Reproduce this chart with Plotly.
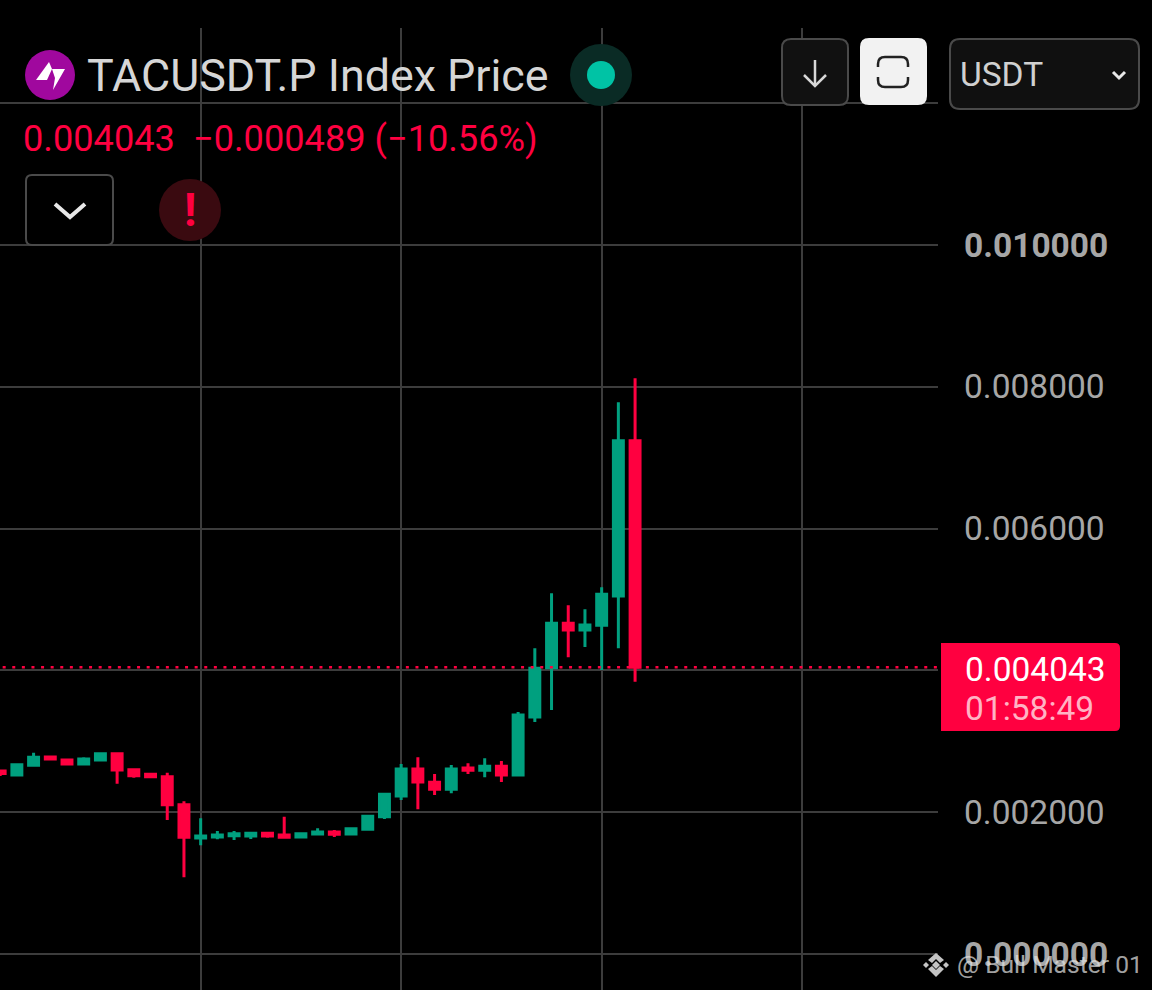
import plotly.graph_objects as go

W = 1152
H = 990

# candle values, in price units
opens = [0.002581, 0.002525, 0.002662, 0.002779, 0.002736, 0.002680, 0.002736, 0.002825, 0.002599, 0.002535,
         0.002501, 0.002106, 0.001636, 0.001650, 0.001669, 0.001664, 0.001702, 0.001678, 0.001650, 0.001693,
         0.001721, 0.001693, 0.001759, 0.001937, 0.002228, 0.002609, 0.002422, 0.002323, 0.002623, 0.002591,
         0.002647, 0.002525, 0.003343, 0.004038, 0.004664, 0.004570, 0.004636, 0.005049, 0.007240]
highs = [0.002588, 0.002675, 0.002839, 0.002793, 0.002750, 0.002774, 0.002830, 0.002839, 0.002619, 0.002549,
         0.002557, 0.002154, 0.001914, 0.001735, 0.001735, 0.001721, 0.001707, 0.001937, 0.001707, 0.001773,
         0.001749, 0.001787, 0.001961, 0.002267, 0.002680, 0.002774, 0.002539, 0.002666, 0.002690, 0.002760,
         0.002722, 0.003413, 0.004312, 0.005087, 0.004918, 0.004862, 0.005172, 0.007781, 0.008120]
lows = [0.002511, 0.002520, 0.002655, 0.002745, 0.002675, 0.002675, 0.002730, 0.002402, 0.002487, 0.002496,
        0.001890, 0.001082, 0.001533, 0.001618, 0.001608, 0.001622, 0.001640, 0.001632, 0.001640, 0.001688,
        0.001650, 0.001674, 0.001755, 0.001904, 0.002172, 0.002041, 0.002243, 0.002267, 0.002539, 0.002492,
        0.002426, 0.002511, 0.003272, 0.003441, 0.004185, 0.004330, 0.004006, 0.004312, 0.003841]
closes = [0.002546, 0.002670, 0.002774, 0.002750, 0.002680, 0.002750, 0.002825, 0.002595, 0.002515, 0.002501,
          0.002106, 0.001646, 0.001664, 0.001678, 0.001697, 0.001702, 0.001664, 0.001646, 0.001697, 0.001721,
          0.001688, 0.001767, 0.001942, 0.002252, 0.002609, 0.002426, 0.002323, 0.002609, 0.002591, 0.002647,
          0.002525, 0.003371, 0.004030, 0.004664, 0.004570, 0.004640, 0.005073, 0.007240, 0.004043]
candle_index = list(range(len(opens)))

price_ticks = [0.0, 0.002, 0.004, 0.006, 0.008, 0.010, 0.012]
price_labels = ["<b>0.000000</b>", "0.002000", "", "0.006000", "0.008000", "<b>0.010000</b>", ""]
time_ticks = [0, 12, 24, 36, 48]

GREEN = "#00a07f"
RED = "#ff0040"
GRID = "#3c3c3c"
TICK_TEXT = "#a6a6a6"
FONT = "Roboto"


def px(x):
    return x / W


def py(y):
    return 1 - y / H


def round_rect(x0, y0, x1, y1, r):
    # rounded box path in paper coords, r in pixels
    pts = [
        f"M {px(x0 + r)} {py(y0)}", f"L {px(x1 - r)} {py(y0)}", f"Q {px(x1)} {py(y0)} {px(x1)} {py(y0 + r)}",
        f"L {px(x1)} {py(y1 - r)}", f"Q {px(x1)} {py(y1)} {px(x1 - r)} {py(y1)}",
        f"L {px(x0 + r)} {py(y1)}", f"Q {px(x0)} {py(y1)} {px(x0)} {py(y1 - r)}",
        f"L {px(x0)} {py(y0 + r)}", f"Q {px(x0)} {py(y0)} {px(x0 + r)} {py(y0)}", "Z",
    ]
    return " ".join(pts)


def poly(points, close=True):
    s = "M " + " L ".join(f"{px(x)} {py(y)}" for x, y in points)
    return s + (" Z" if close else "")


def add_path(fig, path, fill="rgba(0,0,0,0)", line=None, width=0):
    fig.add_shape(type="path", path=path, xref="paper", yref="paper", fillcolor=fill,
                  line=dict(color=line or "rgba(0,0,0,0)", width=width), layer="above")


def add_circle(fig, cx, cy, r, fill):
    fig.add_shape(type="circle", xref="paper", yref="paper", x0=px(cx - r), x1=px(cx + r),
                  y0=py(cy + r), y1=py(cy - r), fillcolor=fill, line=dict(width=0), layer="above")


def add_text(fig, x, y, text, size, color, anchor="left"):
    fig.add_annotation(x=px(x), y=py(y), xref="paper", yref="paper", text=text, showarrow=False,
                       xanchor=anchor, yanchor="middle", font=dict(family=FONT, size=size, color=color),
                       borderpad=0, borderwidth=0)


fig = go.Figure()

fig.add_trace(go.Candlestick(
    x=candle_index, open=opens, high=highs, low=lows, close=closes,
    increasing=dict(line=dict(color=GREEN, width=3), fillcolor=GREEN),
    decreasing=dict(line=dict(color=RED, width=3), fillcolor=RED),
    whiskerwidth=0, showlegend=False,
))

# last price dotted line
fig.add_trace(go.Scatter(
    x=[-1, 57], y=[closes[-1], closes[-1]], mode="lines", showlegend=False,
    line=dict(color=RED, width=2.5, dash="3px 6.6px"),
))

fig.update_layout(
    width=W, height=H, margin=dict(l=0, r=0, t=0, b=0), paper_bgcolor="#000000", plot_bgcolor="#000000",
    font=dict(family=FONT), showlegend=False, boxgap=0.15,
    xaxis=dict(
        domain=[0, 938 / W], range=[-0.01, 56.13], rangeslider=dict(visible=False), tickvals=time_ticks,
        showticklabels=False, ticks="", showgrid=True, gridcolor=GRID, gridwidth=2, zeroline=False, showline=False,
    ),
    yaxis=dict(
        domain=[0, 1 - 28 / H], range=[-0.000508, 0.01306], side="right", tickvals=price_ticks, ticktext=price_labels,
        tickfont=dict(family=FONT, size=33.5, color=TICK_TEXT), ticks="", ticklabelstandoff=25,
        showgrid=True, gridcolor=GRID, gridwidth=2, zeroline=False, showline=False,
    ),
)

# header: logo and title
add_circle(fig, 50, 75, 25, "#a0089e")
add_path(fig, poly([(49, 62), (36, 80), (47, 80), (52, 69)]), fill="#ffffff")
add_path(fig, poly([(52, 69), (65, 69), (53, 90), (55, 78)]), fill="#ffffff")
add_text(fig, 87, 75, "TACUSDT.P Index Price", 44.8, "#d6d6d6")
add_circle(fig, 601, 75, 31, "#0a2b25")
add_circle(fig, 601, 75, 14, "#00c3a5")
add_text(fig, 22.5, 138, "0.004043", 36.2, RED)
add_text(fig, 193, 138, "−0.000489 (−10.56%)", 36.2, RED)

# collapse button and warning
add_path(fig, round_rect(26, 175, 113, 245, 6), fill="#000000", line="#4a4a4a", width=2)
add_path(fig, poly([(55, 204), (70, 217), (85, 204)], close=False), line="#e8e8e8", width=4)
add_circle(fig, 190, 210, 31, "#3a0a10")
add_text(fig, 189.5, 210, "<b>!</b>", 46, RED, anchor="center")

# top right buttons
add_path(fig, round_rect(782, 39, 848, 105, 9), fill="#111111", line="#4a4a4a", width=2)
add_path(fig, poly([(815, 60), (815, 86)], close=False), line="#d8d8d8", width=2.5)
add_path(fig, poly([(804, 75), (815, 86), (826, 75)], close=False), line="#d8d8d8", width=2.5)
add_path(fig, round_rect(860, 38, 927, 105, 9), fill="#f2f2f2")
add_path(fig, round_rect(878, 57, 908, 87, 7), line="#222222", width=2.5)
add_path(fig, poly([(870, 72), (916, 72)], close=False), line="#f2f2f2", width=10)
add_path(fig, round_rect(950, 39, 1139, 109, 10), fill="#101010", line="#4a4a4a", width=2)
add_text(fig, 960, 74, "USDT", 33.5, "#d0d0d0")
add_path(fig, poly([(1113, 72), (1119, 78), (1125, 72)], close=False), line="#e8e8e8", width=3)

# last price tag
add_path(fig, round_rect(941, 643, 1120, 731, 5), fill=RED)
add_path(fig, poly([(941, 643), (950, 643), (950, 731), (941, 731)]), fill=RED)
add_text(fig, 965, 669, f"{closes[-1]:.6f}", 33.5, "#ffffff")
add_text(fig, 965, 708, "01:58:49", 33.5, "#ffb3c4")

# watermark
wm = "#c4c4c4"
add_path(fig, poly([(936, 953), (944, 960), (940, 963), (936, 959), (932, 963), (928, 960)]), fill=wm)
add_path(fig, poly([(936, 977), (944, 969), (940, 966), (936, 970), (932, 966), (928, 969)]), fill=wm)
add_path(fig, poly([(936, 961), (940, 965), (936, 969), (932, 965)]), fill=wm)
add_path(fig, poly([(926, 962), (929, 965), (926, 968), (923, 965)]), fill=wm)
add_path(fig, poly([(946, 962), (949, 965), (946, 968), (943, 965)]), fill=wm)
add_text(fig, 957, 964, "@ Bull Master 01", 24.6, "rgba(225,225,225,0.72)")

fig.write_html("out.html", config=dict(displayModeBar=False), post_script="document.body.style.margin='0';")
